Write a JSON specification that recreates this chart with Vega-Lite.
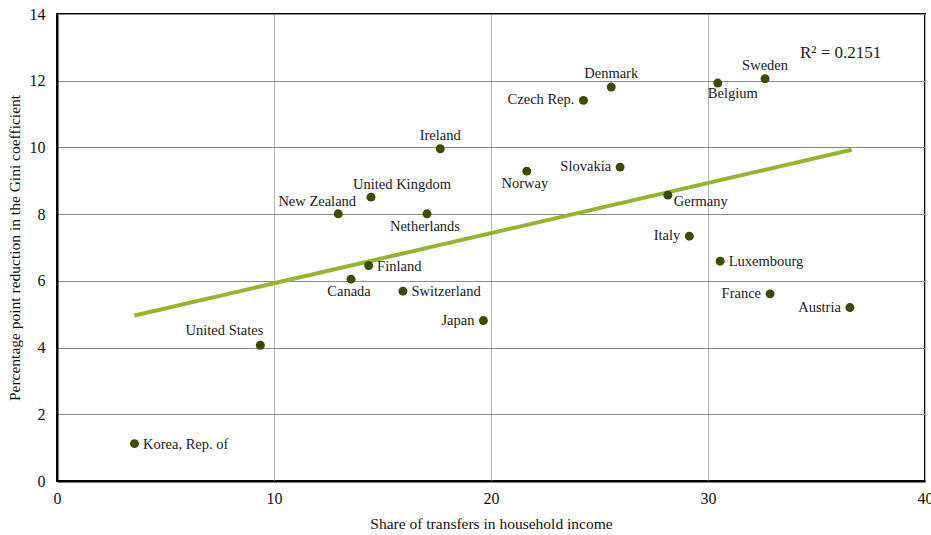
{
  "$schema": "https://vega.github.io/schema/vega-lite/v6.json",
  "width": 868,
  "height": 467,
  "autosize": {"type": "none"},
  "padding": {"left": 57, "top": 14, "right": 6, "bottom": 54},
  "background": "white",
  "config": {
    "view": {"stroke": "#000", "strokeWidth": 2},
    "font": "Liberation Serif",
    "axis": {
      "labelFont": "Liberation Serif",
      "titleFont": "Liberation Serif",
      "labelFontSize": 16,
      "titleFontSize": 15.5,
      "titleFontWeight": "normal",
      "labelColor": "#111",
      "titleColor": "#111",
      "domainColor": "#000",
      "domainWidth": 2,
      "ticks": false,
      "gridWidth": 1,
      "labelFlush": false,
      "labelOverlap": false,
      "labelBound": false
    },
    "axisX": {"gridColor": "#b8b8b8", "gridOpacity": 1},
    "axisY": {"gridColor": "#8a8a8a", "gridOpacity": 1}
  },
  "data": {
    "values": [
      {"country": "Korea, Rep. of", "transfers": 3.57, "gini": 1.12},
      {"country": "United States", "transfers": 9.37, "gini": 4.07},
      {"country": "New Zealand", "transfers": 12.96, "gini": 8.01},
      {"country": "United Kingdom", "transfers": 14.47, "gini": 8.51},
      {"country": "Canada", "transfers": 13.55, "gini": 6.05},
      {"country": "Finland", "transfers": 14.36, "gini": 6.46},
      {"country": "Switzerland", "transfers": 15.94, "gini": 5.69},
      {"country": "Netherlands", "transfers": 17.05, "gini": 8.01},
      {"country": "Ireland", "transfers": 17.66, "gini": 9.96},
      {"country": "Japan", "transfers": 19.65, "gini": 4.81},
      {"country": "Norway", "transfers": 21.65, "gini": 9.29},
      {"country": "Czech Rep.", "transfers": 24.26, "gini": 11.41},
      {"country": "Denmark", "transfers": 25.54, "gini": 11.81},
      {"country": "Slovakia", "transfers": 25.95, "gini": 9.41},
      {"country": "Germany", "transfers": 28.15, "gini": 8.57},
      {"country": "Italy", "transfers": 29.14, "gini": 7.34},
      {"country": "Belgium", "transfers": 30.45, "gini": 11.93},
      {"country": "Luxembourg", "transfers": 30.56, "gini": 6.59},
      {"country": "Sweden", "transfers": 32.63, "gini": 12.06},
      {"country": "France", "transfers": 32.86, "gini": 5.61},
      {"country": "Austria", "transfers": 36.54, "gini": 5.2}
    ]
  },
  "encoding": {
    "x": {
      "field": "transfers", "type": "quantitative",
      "scale": {"domain": [0, 40], "nice": false, "zero": false},
      "axis": {"values": [0, 10, 20, 30, 40], "labelPadding": 9, "titlePadding": 10, "title": "Share of transfers in household income"}
    },
    "y": {
      "field": "gini", "type": "quantitative",
      "scale": {"domain": [0, 14], "nice": false},
      "axis": {"values": [0, 2, 4, 6, 8, 10, 12, 14], "labelPadding": 12, "titlePadding": 7, "title": "Percentage point reduction in the Gini coefficient"}
    }
  },
  "layer": [
    {
      "data": {"values": [
        {"transfers": 3.57, "gini": 4.96},
        {"transfers": 36.62, "gini": 9.93}
      ]},
      "mark": {"type": "line", "color": "#95b52e", "strokeWidth": 4, "strokeCap": "butt"},
      "encoding": {}
    },
    {
      "mark": {"type": "circle", "size": 80, "color": "#3b4c02", "opacity": 1}
    },
    {
      "transform": [{"filter": {"field": "country", "oneOf": ["Korea, Rep. of", "Finland", "Switzerland", "Luxembourg"]}}],
      "mark": {"type": "text", "align": "left", "baseline": "middle", "dx": 8.5, "dy": 1, "fontSize": 14.5, "color": "#1a1a1a"},
      "encoding": {"text": {"field": "country"}}
    },
    {
      "transform": [{"filter": {"field": "country", "oneOf": ["Germany"]}}],
      "mark": {"type": "text", "align": "left", "baseline": "middle", "dx": 6, "dy": 7, "fontSize": 14.5, "color": "#1a1a1a"},
      "encoding": {"text": {"field": "country"}}
    },
    {
      "transform": [{"filter": {"field": "country", "oneOf": ["Czech Rep.", "Slovakia", "Italy", "France", "Austria", "Japan"]}}],
      "mark": {"type": "text", "align": "right", "baseline": "middle", "dx": -9, "dy": 0, "fontSize": 14.5, "color": "#1a1a1a"},
      "encoding": {"text": {"field": "country"}}
    },
    {
      "transform": [{"filter": {"field": "country", "oneOf": ["Ireland", "Denmark", "Sweden"]}}],
      "mark": {"type": "text", "align": "center", "baseline": "middle", "dx": 0, "dy": -13, "fontSize": 14.5, "color": "#1a1a1a"},
      "encoding": {"text": {"field": "country"}}
    },
    {
      "transform": [{"filter": {"field": "country", "oneOf": ["United States"]}}],
      "mark": {"type": "text", "align": "right", "baseline": "middle", "dx": 3, "dy": -14, "fontSize": 14.5, "color": "#1a1a1a"},
      "encoding": {"text": {"field": "country"}}
    },
    {
      "transform": [{"filter": {"field": "country", "oneOf": ["New Zealand"]}}],
      "mark": {"type": "text", "align": "center", "baseline": "middle", "dx": -21, "dy": -12, "fontSize": 14.5, "color": "#1a1a1a"},
      "encoding": {"text": {"field": "country"}}
    },
    {
      "transform": [{"filter": {"field": "country", "oneOf": ["United Kingdom"]}}],
      "mark": {"type": "text", "align": "center", "baseline": "middle", "dx": 31, "dy": -12, "fontSize": 14.5, "color": "#1a1a1a"},
      "encoding": {"text": {"field": "country"}}
    },
    {
      "transform": [{"filter": {"field": "country", "oneOf": ["Canada", "Netherlands", "Norway"]}}],
      "mark": {"type": "text", "align": "center", "baseline": "middle", "dx": -2, "dy": 13, "fontSize": 14.5, "color": "#1a1a1a"},
      "encoding": {"text": {"field": "country"}}
    },
    {
      "transform": [{"filter": {"field": "country", "oneOf": ["Belgium"]}}],
      "mark": {"type": "text", "align": "center", "baseline": "middle", "dx": 15, "dy": 11, "fontSize": 14.5, "color": "#1a1a1a"},
      "encoding": {"text": {"field": "country"}}
    },
    {
      "data": {"values": [{"transfers": 34.24, "gini": 12.83, "note": "R² = 0.2151"}]},
      "mark": {"type": "text", "align": "left", "baseline": "middle", "fontSize": 17, "color": "#1a1a1a"},
      "encoding": {"text": {"field": "note"}}
    }
  ]
}
